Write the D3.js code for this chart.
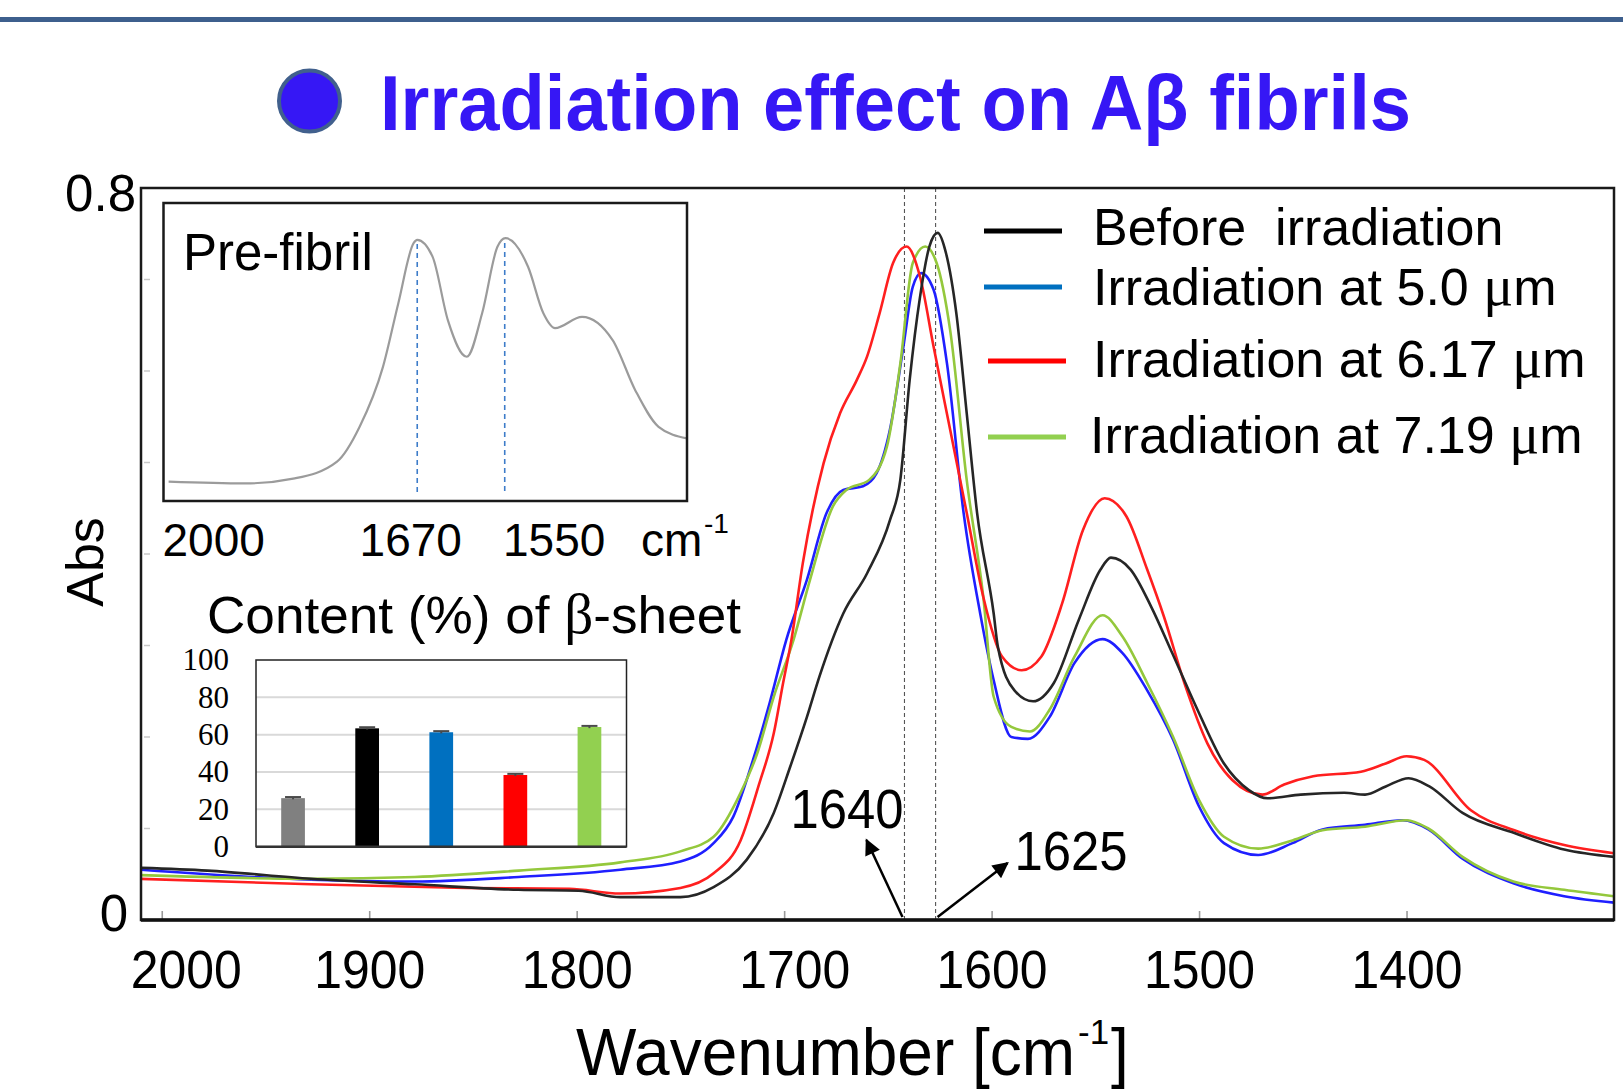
<!DOCTYPE html>
<html>
<head>
<meta charset="utf-8">
<title>Irradiation effect on Aβ fibrils</title>
<script src="https://cdn.jsdelivr.net/npm/d3@7/dist/d3.min.js"></script>
<style>
  html, body { margin: 0; padding: 0; background: #fff; }
  svg { display: block; }
  text { font-family: "Liberation Sans", Arial, Helvetica, sans-serif; fill: #000; }
</style>
</head>
<body>
<div id="chart"></div>
<script>
// ---- values ----
const seriesNames = ["Before  irradiation", "Irradiation at 5.0 μm", "Irradiation at 6.17 μm", "Irradiation at 7.19 μm"];

const wnBefore = [2010, 1978, 1928, 1878, 1828, 1799, 1779, 1750, 1734, 1718, 1705, 1697, 1689, 1683, 1671.5, 1660, 1649, 1644, 1639.5, 1634.5, 1630, 1626, 1622, 1617, 1612, 1607, 1599, 1597, 1589, 1580, 1570, 1558, 1547.5, 1542.5, 1533, 1523, 1513, 1500, 1488, 1476, 1467, 1451, 1430, 1420, 1410, 1399, 1389, 1373, 1348, 1324, 1300];
const absBefore = [0.057, 0.054, 0.045, 0.039, 0.033, 0.032, 0.025, 0.025, 0.036, 0.066, 0.117, 0.168, 0.222, 0.266, 0.335, 0.379, 0.437, 0.481, 0.590, 0.681, 0.736, 0.751, 0.729, 0.663, 0.554, 0.445, 0.335, 0.299, 0.251, 0.239, 0.259, 0.328, 0.383, 0.396, 0.383, 0.342, 0.292, 0.226, 0.171, 0.142, 0.133, 0.137, 0.139, 0.137, 0.146, 0.155, 0.146, 0.117, 0.095, 0.077, 0.069];

const wn50 = [2010, 1928, 1878, 1828, 1779, 1750, 1734, 1724.5, 1715, 1707, 1699, 1689, 1679.5, 1671.5, 1662, 1655.5, 1649, 1642.5, 1638, 1634, 1628, 1621.5, 1613.5, 1605.5, 1599, 1590.5, 1582.5, 1572, 1560, 1546.5, 1537, 1525, 1512.5, 1500, 1488, 1471.5, 1455, 1440.5, 1420, 1402, 1389.5, 1373, 1348.5, 1324, 1300];
const abs50 = [0.055, 0.044, 0.042, 0.047, 0.055, 0.064, 0.084, 0.113, 0.175, 0.237, 0.306, 0.372, 0.445, 0.470, 0.474, 0.488, 0.536, 0.627, 0.692, 0.707, 0.689, 0.608, 0.445, 0.335, 0.262, 0.200, 0.198, 0.222, 0.281, 0.307, 0.292, 0.251, 0.197, 0.124, 0.084, 0.071, 0.084, 0.099, 0.104, 0.109, 0.099, 0.067, 0.040, 0.026, 0.019];

const wn617 = [2010, 1928, 1853.5, 1803.5, 1779, 1750, 1734, 1721, 1712, 1705, 1700.5, 1696.5, 1691, 1681, 1673, 1665, 1660, 1654, 1647.5, 1641, 1634.5, 1628, 1620, 1612, 1604, 1595, 1585.5, 1576, 1566, 1556, 1545.5, 1535, 1525, 1517, 1506.5, 1496, 1484, 1469.5, 1459, 1445, 1422, 1410, 1400, 1391.5, 1369, 1348, 1324, 1300];
const abs617 = [0.045, 0.039, 0.035, 0.034, 0.029, 0.035, 0.051, 0.087, 0.149, 0.204, 0.259, 0.306, 0.390, 0.499, 0.554, 0.590, 0.616, 0.663, 0.718, 0.736, 0.703, 0.627, 0.536, 0.445, 0.353, 0.288, 0.273, 0.288, 0.346, 0.426, 0.461, 0.441, 0.383, 0.332, 0.255, 0.193, 0.153, 0.137, 0.148, 0.157, 0.162, 0.171, 0.179, 0.175, 0.120, 0.098, 0.082, 0.073];

const wn719 = [2010, 1928, 1878, 1828, 1779, 1750, 1734, 1721, 1713, 1705, 1695.5, 1687.5, 1676.5, 1670, 1659, 1650.5, 1644, 1638, 1632, 1626.5, 1620, 1612, 1604, 1599, 1590.5, 1581.5, 1572, 1560, 1546.5, 1537, 1525, 1512.5, 1500, 1488, 1471.5, 1455, 1440.5, 1420, 1400, 1389.5, 1373, 1348.5, 1324, 1300];
const abs719 = [0.049, 0.045, 0.047, 0.054, 0.063, 0.075, 0.091, 0.139, 0.182, 0.244, 0.306, 0.372, 0.452, 0.470, 0.481, 0.517, 0.608, 0.718, 0.736, 0.718, 0.645, 0.481, 0.353, 0.244, 0.211, 0.206, 0.230, 0.288, 0.333, 0.310, 0.259, 0.200, 0.131, 0.091, 0.078, 0.087, 0.098, 0.102, 0.109, 0.100, 0.069, 0.042, 0.033, 0.026];

const xTicks = [2000, 1900, 1800, 1700, 1600, 1500, 1400];
const yTicks = [0, 0.8];
const markerWn = [1642, 1627];          // dashed lines
const markerLabels = ["1640", "1625"];

// pre-fibril inset (relative absorbance)
const preWn = [2011, 1906, 1838, 1780, 1749, 1717, 1696, 1675, 1670, 1649, 1628, 1602, 1581, 1560, 1549, 1518, 1497, 1481, 1444, 1402, 1371, 1339, 1300];
const preAbs = [0.065, 0.059, 0.076, 0.132, 0.249, 0.450, 0.663, 0.865, 0.876, 0.820, 0.607, 0.484, 0.630, 0.853, 0.882, 0.786, 0.630, 0.580, 0.618, 0.540, 0.372, 0.249, 0.210];
const preMarks = [1670, 1550];
const preTickLabels = ["2000", "1670", "1550"];

// beta-sheet content inset
const barCats = ["Pre-fibril", "Before", "5.0 μm", "6.17 μm", "7.19 μm"];
const barVals = [26.0, 63.4, 61.3, 38.4, 64.1];
const barErr = [0.6, 0.6, 0.6, 0.6, 0.6];
const barTicks = [0, 20, 40, 60, 80, 100];

// colours
const curveColors = ["#262626", "#1f1fff", "#ff1f1f", "#94c83c"];
const legendColors = ["#000000", "#0070c0", "#ff0000", "#92d050"];
const barColors = ["#808080", "#000000", "#0070c0", "#ff0000", "#92d050"];

const serif = '"Liberation Serif", "Times New Roman", serif';

const width = 1623, height = 1090;
const svg = d3.select("#chart").append("svg")
  .attr("width", width).attr("height", height);

// top rule + title
svg.append("rect").attr("x", 0).attr("y", 17).attr("width", width).attr("height", 5).attr("fill", "#3d5f8d");
svg.append("circle").attr("cx", 309.5).attr("cy", 101).attr("r", 30.5)
  .attr("fill", "#3617f5").attr("stroke", "#41608d").attr("stroke-width", 4);
svg.append("text").attr("x", 380).attr("y", 130)
  .attr("font-size", 77).attr("font-weight", "bold").style("fill", "#3617f5")
  .attr("textLength", 1031).attr("lengthAdjust", "spacingAndGlyphs")
  .text("Irradiation effect on Aβ fibrils");

// ---- main plot ----
const m = {left: 141, top: 188, right: 1614, bottom: 920};
const x = d3.scaleLinear().domain([2010, 1300]).range([m.left, m.right]);
const y = d3.scaleLinear().domain([0, 0.8]).range([m.bottom, m.top]);

svg.append("defs").append("clipPath").attr("id", "plotclip")
  .append("rect").attr("x", m.left).attr("y", m.top)
  .attr("width", m.right - m.left).attr("height", m.bottom - m.top);

// minor ticks on the left
svg.append("g").selectAll("line").data([0.1, 0.2, 0.3, 0.4, 0.5, 0.6, 0.7]).join("line")
  .attr("x1", m.left + 3).attr("x2", m.left + 9)
  .attr("y1", d => y(d)).attr("y2", d => y(d))
  .attr("stroke", "#c8c8c8").attr("stroke-width", 1.5);

// dashed markers
svg.append("g").selectAll("line").data(markerWn).join("line")
  .attr("x1", d => x(d)).attr("x2", d => x(d))
  .attr("y1", m.top).attr("y2", m.bottom)
  .attr("stroke", "#555").attr("stroke-width", 1.1).attr("stroke-dasharray", "4,3");

const line = d3.line().x(d => x(d[0])).y(d => y(d[1])).curve(d3.curveMonotoneX);
const series = [
  d3.zip(wnBefore, absBefore),
  d3.zip(wn50, abs50),
  d3.zip(wn617, abs617),
  d3.zip(wn719, abs719)
];
const drawOrder = [1, 3, 2, 0];
svg.append("g").attr("clip-path", "url(#plotclip)")
  .selectAll("path").data(drawOrder).join("path")
  .attr("d", i => line(series[i]))
  .attr("fill", "none")
  .attr("stroke", i => curveColors[i])
  .attr("stroke-width", 2.6)
  .attr("stroke-linejoin", "round");

// x axis
const xAxis = d3.axisBottom(x).tickValues(xTicks).tickSize(-9).tickFormat(d3.format("d"));
const gx = svg.append("g").attr("transform", `translate(0,${m.bottom})`).call(xAxis);
gx.select(".domain").remove();
gx.selectAll(".tick line").attr("stroke", "#9a9a9a").attr("stroke-width", 1.6);
gx.selectAll(".tick text")
  .attr("y", 68).attr("dy", 0)
  .attr("x", d => d === 2000 ? 24 : (d === 1700 ? 10 : 0))
  .attr("font-size", 54)
  .attr("textLength", 111).attr("lengthAdjust", "spacingAndGlyphs")
  .style("font-family", '"Liberation Sans", Arial, sans-serif')
  .style("fill", "#000");

// y axis
const yAxis = d3.axisLeft(y).tickValues(yTicks).tickSize(0).tickPadding(5)
  .tickFormat(d => d === 0 ? "0" : d3.format(".1f")(d));
const gy = svg.append("g").attr("transform", `translate(${m.left},0)`).call(yAxis);
gy.select(".domain").remove();
gy.selectAll(".tick text")
  .attr("font-size", 51)
  .style("font-family", '"Liberation Sans", Arial, sans-serif')
  .style("fill", "#000")
  .attr("x", d => d === 0 ? -13 : -5)
  .attr("dy", "0.35em")
  .attr("y", d => d === 0 ? -7 : 5);

// frame
svg.append("rect").attr("x", m.left).attr("y", m.top)
  .attr("width", m.right - m.left).attr("height", m.bottom - m.top)
  .attr("fill", "none").attr("stroke", "#1a1a1a").attr("stroke-width", 2.5);
svg.append("line").attr("x1", m.left).attr("x2", m.right).attr("y1", m.bottom).attr("y2", m.bottom)
  .attr("stroke", "#111").attr("stroke-width", 3.5);

// axis titles
svg.append("text").attr("transform", "translate(103,562) rotate(-90)")
  .attr("text-anchor", "middle").attr("font-size", 52).text("Abs");
svg.append("g").attr("transform", "translate(576,1075) scale(0.97,1)")
  .append("text").attr("font-size", 66)
  .call(t => {
    t.append("tspan").text("Wavenumber [cm");
    t.append("tspan").attr("dx", 3).attr("dy", -31).attr("font-size", 36).text("-1");
    t.append("tspan").attr("dx", 2).attr("dy", 31).text("]");
  });

// arrows to the marker lines
const defs = svg.select("defs");
defs.append("marker").attr("id", "head").attr("viewBox", "0 0 10 10")
  .attr("refX", 9).attr("refY", 5).attr("markerWidth", 20).attr("markerHeight", 16)
  .attr("markerUnits", "userSpaceOnUse").attr("orient", "auto")
  .append("path").attr("d", "M0,0 L10,5 L0,10 z").attr("fill", "#000");
const arrowTips = [[-38, -80], [72, -57]];
const labelPos = [[-114, -92], [79, -50]];
svg.append("g").selectAll("line").data(markerWn).join("line")
  .attr("x1", (d, i) => x(d) + (i === 0 ? -2 : 2)).attr("y1", m.bottom - 3)
  .attr("x2", (d, i) => x(d) + arrowTips[i][0]).attr("y2", (d, i) => m.bottom + arrowTips[i][1])
  .attr("stroke", "#000").attr("stroke-width", 2.5).attr("marker-end", "url(#head)");
svg.append("g").selectAll("text").data(markerWn).join("text")
  .attr("x", (d, i) => x(d) + labelPos[i][0]).attr("y", (d, i) => m.bottom + labelPos[i][1])
  .attr("font-size", 55).attr("textLength", 113).attr("lengthAdjust", "spacingAndGlyphs")
  .text((d, i) => markerLabels[i]);

// legend
const legend = svg.append("g");
const legY = [231, 287, 361, 437];
const legTextY = [245, 305, 377, 453];
const legItems = legend.selectAll("g").data(seriesNames).join("g");
legItems.append("line")
  .attr("x1", (d, i) => i < 2 ? 984 : 988).attr("x2", (d, i) => i < 2 ? 1062 : 1066)
  .attr("y1", (d, i) => legY[i]).attr("y2", (d, i) => legY[i])
  .attr("stroke", (d, i) => legendColors[i]).attr("stroke-width", 5);
const legText = legItems.append("text")
  .attr("x", (d, i) => i === 3 ? 1090 : 1093).attr("y", (d, i) => legTextY[i])
  .attr("font-size", 52).attr("xml:space", "preserve").style("white-space", "pre");
legText.each(function(d) {
  const t = d3.select(this);
  const parts = d.split("μ");
  t.append("tspan").text(parts[0]);
  if (parts.length > 1) {
    t.append("tspan").style("font-family", serif).attr("font-size", 56).text("μ");
    t.append("tspan").text(parts[1]);
  }
});

// ---- inset: pre-fibril spectrum ----
const ins = {left: 163.5, top: 203, right: 687, bottom: 501};
const xi = d3.scaleLinear().domain([2018, 1300]).range([ins.left, ins.right]);
const yi = d3.scaleLinear().domain([0, 1]).range([ins.bottom, ins.top]);
svg.append("rect").attr("x", ins.left).attr("y", ins.top)
  .attr("width", ins.right - ins.left).attr("height", ins.bottom - ins.top)
  .attr("fill", "#fff");
const preLine = d3.line().x(d => xi(d[0])).y(d => yi(d[1])).curve(d3.curveMonotoneX);
svg.append("path").datum(d3.zip(preWn, preAbs)).attr("d", preLine)
  .attr("fill", "none").attr("stroke", "#9b9b9b").attr("stroke-width", 2.2);
const preInterp = d3.scaleLinear().domain(preWn).range(preAbs);
svg.append("g").selectAll("line").data(preMarks).join("line")
  .attr("x1", d => xi(d)).attr("x2", d => xi(d))
  .attr("y1", d => yi(preInterp(d)) + 4).attr("y2", ins.bottom - 6)
  .attr("stroke", "#3d7cc9").attr("stroke-width", 1.6).attr("stroke-dasharray", "5,4");
svg.append("rect").attr("x", ins.left).attr("y", ins.top)
  .attr("width", ins.right - ins.left).attr("height", ins.bottom - ins.top)
  .attr("fill", "none").attr("stroke", "#1a1a1a").attr("stroke-width", 2.5);
svg.append("text").attr("x", 183).attr("y", 270).attr("font-size", 51).text("Pre-fibril");
const preLabelX = [162.5, 359.6, 503];
svg.append("g").selectAll("text").data(preTickLabels).join("text")
  .attr("x", (d, i) => preLabelX[i]).attr("y", 556).attr("font-size", 46).text(d => d);
svg.append("text").attr("x", 641).attr("y", 556).attr("font-size", 46).text("cm");
svg.append("text").attr("x", 704).attr("y", 533).attr("font-size", 28).text("-1");

// ---- inset: beta-sheet content bars ----
const bi = {left: 256, top: 660, right: 626.5, bottom: 846.7};
const xb = d3.scaleBand().domain(barCats).range([bi.left, bi.right]).paddingInner(0.68).paddingOuter(0.34);
const yb = d3.scaleLinear().domain([0, 100]).range([bi.bottom, bi.top]);
svg.append("text").attr("x", 207).attr("y", 633).attr("font-size", 52)
  .attr("textLength", 534).attr("lengthAdjust", "spacingAndGlyphs")
  .call(t => {
    t.append("tspan").text("Content (%) of ");
    t.append("tspan").style("font-family", serif).attr("font-size", 56).text("β");
    t.append("tspan").text("-sheet");
  });
svg.append("rect").attr("x", bi.left).attr("y", bi.top)
  .attr("width", bi.right - bi.left).attr("height", bi.bottom - bi.top).attr("fill", "#fff");
svg.append("g").selectAll("line").data(barTicks.slice(1, -1)).join("line")
  .attr("x1", bi.left).attr("x2", bi.right)
  .attr("y1", d => yb(d)).attr("y2", d => yb(d))
  .attr("stroke", "#d9d9d9").attr("stroke-width", 2);
svg.append("g").selectAll("rect").data(barVals).join("rect")
  .attr("x", (d, i) => xb(barCats[i])).attr("width", xb.bandwidth())
  .attr("y", d => yb(d)).attr("height", d => yb(0) - yb(d))
  .attr("fill", (d, i) => barColors[i]);
const errG = svg.append("g").attr("stroke", "#4a4a4a").attr("stroke-width", 2);
barVals.forEach((v, i) => {
  const cx = xb(barCats[i]) + xb.bandwidth() / 2;
  errG.append("line").attr("x1", cx).attr("x2", cx).attr("y1", yb(v - barErr[i])).attr("y2", yb(v + barErr[i]));
  errG.append("line").attr("x1", cx - 8).attr("x2", cx + 8).attr("y1", yb(v + barErr[i])).attr("y2", yb(v + barErr[i]));
});
svg.append("rect").attr("x", bi.left).attr("y", bi.top)
  .attr("width", bi.right - bi.left).attr("height", bi.bottom - bi.top)
  .attr("fill", "none").attr("stroke", "#222").attr("stroke-width", 1.5);
svg.append("line").attr("x1", bi.left).attr("x2", bi.right).attr("y1", bi.bottom).attr("y2", bi.bottom)
  .attr("stroke", "#333").attr("stroke-width", 2.5);
const yBarAxis = d3.axisLeft(yb).tickValues(barTicks).tickSize(0).tickPadding(27);
const gyb = svg.append("g").attr("transform", `translate(${bi.left},0)`).call(yBarAxis);
gyb.select(".domain").remove();
gyb.selectAll(".tick text")
  .style("font-family", serif).attr("font-size", 31).style("fill", "#000");
</script>
</body>
</html>
